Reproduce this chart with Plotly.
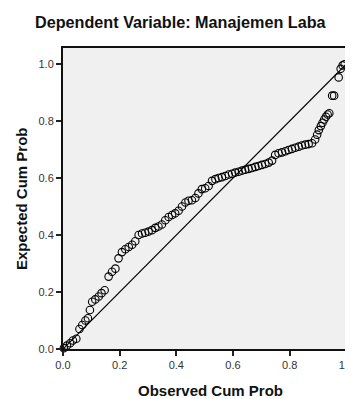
import plotly.graph_objects as go

# Observed cumulative probability (x) and expected cumulative probability (y)
observed_cum_prob = [
    0.003, 0.014, 0.025, 0.035, 0.047, 0.058, 0.068, 0.079, 0.088, 0.095,
    0.103, 0.114, 0.126, 0.136, 0.147, 0.161, 0.173, 0.185, 0.196, 0.208,
    0.220, 0.232, 0.244, 0.255, 0.267, 0.279, 0.290, 0.302, 0.314, 0.326,
    0.337, 0.349, 0.361, 0.373, 0.385, 0.396, 0.408, 0.420, 0.432, 0.443,
    0.455, 0.467, 0.478, 0.490, 0.502, 0.514, 0.526, 0.538, 0.549, 0.561,
    0.573, 0.585, 0.597, 0.608, 0.620, 0.632, 0.643, 0.655, 0.667, 0.679,
    0.690, 0.702, 0.714, 0.726, 0.738, 0.749, 0.761, 0.773, 0.785, 0.796,
    0.808, 0.820, 0.832, 0.843, 0.855, 0.867, 0.879, 0.890, 0.897, 0.903,
    0.910, 0.916, 0.922, 0.928, 0.934, 0.940, 0.950, 0.957, 0.973, 0.980,
    0.987, 0.994,
]
expected_cum_prob = [
    0.003, 0.012, 0.020, 0.030, 0.036, 0.070, 0.084, 0.100, 0.108, 0.137,
    0.166, 0.174, 0.184, 0.196, 0.206, 0.254, 0.271, 0.282, 0.318, 0.340,
    0.350, 0.358, 0.366, 0.378, 0.400, 0.405, 0.408, 0.412, 0.417, 0.425,
    0.430, 0.437, 0.452, 0.463, 0.470, 0.476, 0.485, 0.500, 0.514, 0.520,
    0.522, 0.530, 0.546, 0.561, 0.564, 0.572, 0.590, 0.596, 0.600, 0.603,
    0.607, 0.612, 0.615, 0.619, 0.622, 0.626, 0.629, 0.632, 0.635, 0.639,
    0.642, 0.646, 0.649, 0.654, 0.661, 0.681, 0.687, 0.690, 0.694, 0.698,
    0.702, 0.706, 0.710, 0.714, 0.717, 0.719, 0.722, 0.735, 0.752, 0.768,
    0.782, 0.794, 0.805, 0.815, 0.823, 0.827, 0.889, 0.889, 0.953, 0.983,
    0.995, 0.999,
]

ref_line_x = [0.0, 1.0]
ref_line_y = [0.0, 1.0]

tick_vals = [0.0, 0.2, 0.4, 0.6, 0.8, 1.0]
tick_text = ["0.0", "0.2", "0.4", "0.6", "0.8", "1.0"]

title_text = "Dependent Variable: Manajemen Laba"
x_title = "Observed Cum Prob"
y_title = "Expected Cum Prob"

FONT = "Liberation Sans, Arial, sans-serif"

fig = go.Figure()
fig.add_trace(go.Scatter(
    x=ref_line_x, y=ref_line_y, mode="lines",
    line=dict(color="black", width=1.2), hoverinfo="skip", showlegend=False,
))
fig.add_trace(go.Scatter(
    x=observed_cum_prob, y=expected_cum_prob, mode="markers",
    marker=dict(symbol="circle-open", size=7.5, color="black",
                line=dict(color="black", width=1.1)),
    cliponaxis=False, showlegend=False,
))

axis_common = dict(
    tickvals=tick_vals, ticktext=tick_text,
    ticks="outside", ticklen=5, tickwidth=1.5, tickcolor="#222",
    showline=True, linecolor="#111", linewidth=2,
    showgrid=False, zeroline=False,
    tickfont=dict(family=FONT, size=11, color="#333"),
    ticklabeloverflow="allow",
)

# The page body has an 8px default margin, so the figure is 8px smaller and shifted.
fig.update_layout(
    width=345, height=391,
    margin=dict(l=55, r=0, t=40, b=50),
    paper_bgcolor="white", plot_bgcolor="#F0F0F0",
    xaxis=dict(range=[0, 1.0236], mirror=True, **axis_common),
    yaxis=dict(range=[0, 1.0561], **axis_common),
    annotations=[
        dict(text=f"<b>{title_text}</b>", x=0.4086, y=1.086,
             xref="paper", yref="paper", showarrow=False,
             font=dict(family=FONT, size=16.2, color="#111"),
             xanchor="center", yanchor="middle"),
        dict(text=f"<b>{x_title}</b>", x=0.5086, y=-0.1395,
             xref="paper", yref="paper", showarrow=False,
             font=dict(family=FONT, size=15, color="#111"),
             xanchor="center", yanchor="middle"),
        dict(text=f"<b>{y_title}</b>", x=-0.143, y=0.5,
             xref="paper", yref="paper", showarrow=False, textangle=-90,
             font=dict(family=FONT, size=15, color="#111"),
             xanchor="center", yanchor="middle"),
    ],
)

fig.write_html("out.html")
